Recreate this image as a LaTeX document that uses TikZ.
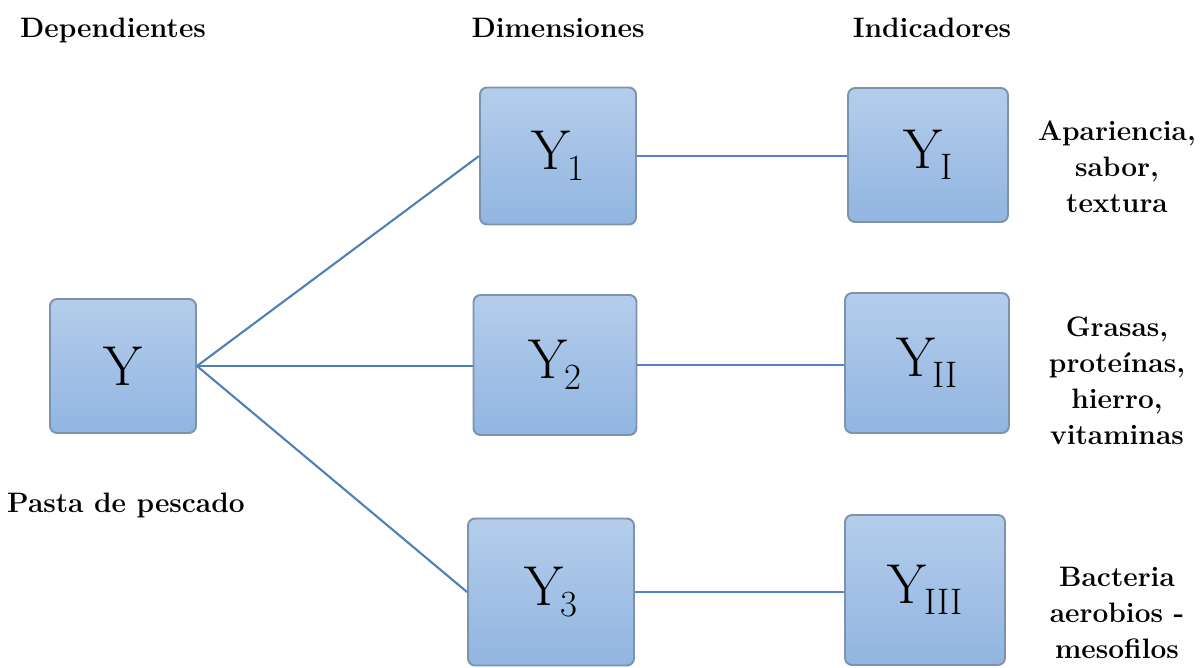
\documentclass[tikz,border=0pt]{standalone}
\usepackage{fontspec}
\usetikzlibrary{positioning}
\definecolor{boxtop}{RGB}{180,205,235}
\definecolor{boxbottom}{RGB}{145,181,225}
\definecolor{boxedge}{RGB}{125,147,171}
\definecolor{linkblue}{RGB}{80,129,182}
\definecolor{indblue}{RGB}{86,128,204}
\newcommand{\ysub}[1]{\kern-1.5pt\raisebox{-6pt}{\fontsize{21}{21}\selectfont #1}}

\begin{document}
\begin{tikzpicture}[x=0.02cm, y=-0.02cm,
  caja/.style={draw=boxedge, line width=1.1pt, rounded corners=4pt,
    top color=boxtop, bottom color=boxbottom, inner sep=0pt,
    minimum width=3.2cm, minimum height=2.8cm, font=\fontsize{32}{32}\selectfont},
  titulo/.style={anchor=base, font=\fontsize{16}{20.5}\selectfont\bfseries},
  nota/.style={align=center, font=\fontsize{16}{20.5}\selectfont\bfseries},
  enlace/.style={linkblue, line width=1.2pt}]
  \useasboundingbox (0,0) rectangle (1200,667);
  % Column titles
  \node[titulo] (tdep) at (113,37) {Dependientes};
  \node[titulo] (tdim) at (558,37) {Dimensiones};
  \node[titulo] (tind) at (932,37) {Indicadores};
  % Dependent variable
  \node[caja, minimum width=2.92cm, minimum height=2.68cm] (Y) at (123,366) {Y};
  \node[titulo] (pasta) at (126,512) {Pasta de pescado};
  % Dimensions
  \node[caja, minimum width=3.12cm, minimum height=2.74cm] (Y1) at (558,156) {Y\ysub{1}};
  \node[caja, minimum width=3.26cm] (Y2) at (555,365) {Y\ysub{2}};
  \node[caja, minimum width=3.32cm, minimum height=2.94cm] (Y3) at (551,592) {Y\ysub{3}};
  % Indicators
  \node[caja, minimum height=2.68cm] (YI) at (928,155) {Y\ysub{I}};
  \node[caja, minimum width=3.28cm] (YII) at (927,363) {Y\ysub{II}};
  \node[caja, minimum height=3cm] (YIII) at (925,590) {Y\ysub{III}};
  % Indicator descriptions
  \node[nota] (nI) at (1117,167) {Apariencia,\\sabor,\\textura};
  \node[nota] (nII) at (1117,381) {Grasas,\\proteínas,\\hierro,\\vitaminas};
  \node[nota] (nIII) at (1117,613) {Bacteria\\aerobios -\\mesofilos};
  % Connectors
  \draw[enlace] (Y.east) -- (Y1.west);
  \draw[enlace] (Y.east) -- (Y.east -| Y2.west);
  \draw[enlace] (Y.east) -- (Y3.west);
  \draw[enlace, indblue] (Y1.east) -- (Y1.east -| YI.west);
  \draw[enlace, indblue] (Y2.east) -- (Y2.east -| YII.west);
  \draw[enlace, indblue] (Y3.east) -- (Y3.east -| YIII.west);
\end{tikzpicture}
\end{document}
